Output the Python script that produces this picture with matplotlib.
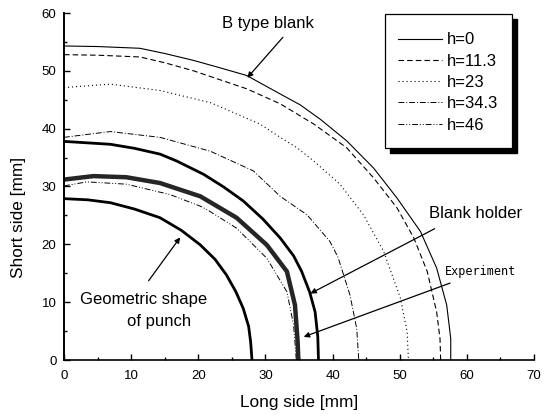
import matplotlib
matplotlib.use("Agg")
import matplotlib.pyplot as plt
from matplotlib.patches import Rectangle
from matplotlib.ticker import MultipleLocator

plt.rcParams["font.family"] = ["Liberation Sans", "DejaVu Sans"]

# h = 0 (B type blank)
h0_x = [0, 5.0, 11.3, 15.0, 19.3, 23.0, 27.2, 32.2, 35.2, 38.2, 42.1, 46.1, 49.6, 53.1, 55.5, 57.0, 57.6, 57.6]
h0_y = [54.3, 54.2, 53.9, 53.0, 51.8, 50.6, 49.2, 46.0, 44.1, 41.6, 37.9, 33.2, 28.0, 22.2, 15.9, 9.5, 3.7, 0]
# h = 11.3
h1_x = [0, 5.0, 11.3, 15.0, 19.3, 27.2, 32.2, 37.2, 42.1, 46.1, 49.6, 52.1, 54.1, 55.5, 56.0, 56.1]
h1_y = [52.8, 52.7, 52.4, 51.4, 50.0, 46.9, 44.3, 40.8, 36.7, 31.5, 26.3, 21.1, 15.3, 8.3, 3.7, 0]
# h = 23
h2_x = [0, 6.9, 14.3, 21.8, 29.2, 32.2, 34.7, 37.2, 41.1, 44.6, 47.6, 50.1, 51.1, 51.3]
h2_y = [47.1, 47.7, 46.6, 44.5, 40.8, 38.5, 36.7, 34.4, 30.4, 25.1, 18.8, 10.7, 4.9, 0]
# h = 34.3
h3_x = [0, 6.9, 14.3, 21.8, 28.2, 32.2, 36.2, 39.6, 40.8, 42.6, 43.6, 43.9]
h3_y = [38.5, 39.5, 38.5, 36.1, 32.7, 28.3, 25.1, 20.5, 17.8, 11.2, 5.4, 0]
# h = 46
h4_x = [0, 3.4, 9.3, 15.8, 20.3, 21.3, 25.7, 30.2, 33.2, 34.2, 34.6]
h4_y = [30.1, 30.8, 30.4, 28.6, 26.6, 26.0, 22.8, 17.6, 11.8, 6.0, 0]
# experiment
exp_x = [0, 4.4, 9.3, 14.3, 20.3, 25.7, 30.2, 33.2, 34.4, 34.8, 34.9]
exp_y = [31.2, 31.8, 31.6, 30.6, 28.3, 24.6, 19.9, 15.3, 9.5, 3.1, 0]
# blank holder
bh_x = [0, 6.9, 10.5, 14.3, 16.8, 20.8, 23.8, 26.7, 29.6, 32.2, 34.2, 35.4, 36.6, 37.4, 37.8, 37.9]
bh_y = [37.8, 37.3, 36.6, 35.6, 34.4, 32.1, 29.9, 27.5, 24.4, 21.1, 18.0, 15.3, 11.7, 8.3, 4.0, 0]
# geometric shape of punch
pu_x = [0, 3.5, 6.9, 10.5, 14.3, 17.5, 20.3, 22.5, 24.2, 25.6, 26.7, 27.5, 27.8, 28.0]
pu_y = [27.9, 27.7, 27.2, 26.1, 24.6, 22.4, 19.9, 17.4, 14.7, 11.8, 8.9, 5.8, 3.1, 0]

W, H = 548, 415
fig = plt.figure(figsize=(W / 100, H / 100), dpi=100)
ax = fig.add_axes([64 / W, 1 - 360 / H, 470 / W, 347 / H])

l0, = ax.plot(h0_x, h0_y, color="k", lw=0.8, ls="-", label="h=0")
l1, = ax.plot(h1_x, h1_y, color="k", lw=0.8, ls=(0, (5, 2.8)), label="h=11.3")
l2, = ax.plot(h2_x, h2_y, color="k", lw=0.8, ls=(0, (1, 2.6)), label="h=23")
l3, = ax.plot(h3_x, h3_y, color="k", lw=0.7, ls=(0, (6, 2, 1, 2)), label="h=34.3")
l4, = ax.plot(h4_x, h4_y, color="k", lw=0.7, ls=(0, (6, 2, 1, 2, 1, 2)), label="h=46")
ax.plot(exp_x, exp_y, color="0.15", lw=3.2, solid_capstyle="butt")
ax.plot(bh_x, bh_y, color="k", lw=2.0)
ax.plot(pu_x, pu_y, color="k", lw=2.0)

ax.set_xlim(0, 70)
ax.set_ylim(0, 60)
ax.xaxis.set_major_locator(MultipleLocator(10))
ax.xaxis.set_minor_locator(MultipleLocator(5))
ax.yaxis.set_major_locator(MultipleLocator(10))
ax.yaxis.set_minor_locator(MultipleLocator(5))
ax.tick_params(which="both", direction="in", labelsize=9.5, width=1.0)
ax.tick_params(which="major", length=4.5)
ax.tick_params(which="minor", length=2.5)
ax.tick_params(axis="x", which="major", pad=7)
ax.tick_params(axis="y", which="major", pad=5.4)
ax.spines["top"].set_visible(False)
ax.spines["right"].set_visible(False)
ax.spines["left"].set_linewidth(1.4)
ax.spines["bottom"].set_linewidth(1.2)

ax.set_xlabel("Long side [mm]", fontsize=12.4)
ax.set_ylabel("Short side [mm]", fontsize=12.4)
ax.xaxis.set_label_coords(0.5, -0.102)
ax.yaxis.set_label_coords(-0.081, 0.41)

arrow = dict(arrowstyle="-|>", color="k", lw=0.9, mutation_scale=8,
             shrinkA=0, shrinkB=0)
ax.annotate("", xy=(27.3, 48.8), xytext=(32.6, 55.8), arrowprops=arrow)
ax.text(30.3, 58.2, "B type blank", fontsize=12, ha="center", va="center")
ax.annotate("", xy=(36.7, 11.5), xytext=(55.2, 22.7), arrowprops=arrow)
ax.text(61.3, 25.4, "Blank holder", fontsize=12, ha="center", va="center")
ax.annotate("", xy=(35.7, 4.0), xytext=(57.5, 13.3), arrowprops=arrow)
ax.text(62.1, 15.3, "Experiment", fontsize=8.5, ha="center", va="center",
        family="DejaVu Sans Mono")
ax.annotate("", xy=(17.3, 21.2), xytext=(12.6, 13.7), arrowprops=arrow)
ax.text(11.8, 10.4, "Geometric shape", fontsize=12, ha="center", va="center")
ax.text(14.1, 6.7, "of punch", fontsize=12, ha="center", va="center")

# legend box drawn by hand (more padding top/bottom than at the sides)
fig.patches.append(Rectangle((390 / W, 1 - 153 / H), 127 / W, 134 / H,
                             transform=fig.transFigure, facecolor="k",
                             edgecolor="k", zorder=4))
fig.patches.append(Rectangle((385 / W, 1 - 148 / H), 127 / W, 134 / H,
                             transform=fig.transFigure, facecolor="w",
                             edgecolor="k", lw=0.9, zorder=5))
leg = fig.legend(handles=[l0, l1, l2, l3, l4], loc="upper left",
                 bbox_to_anchor=(398 / W, 1 - 32.5 / H),
                 bbox_transform=fig.transFigure, borderaxespad=0,
                 borderpad=0, fontsize=12, frameon=False,
                 handlelength=2.65, handletextpad=0.3, labelspacing=0.375)
leg.set_zorder(6)

fig.savefig("out.png", dpi=100)
